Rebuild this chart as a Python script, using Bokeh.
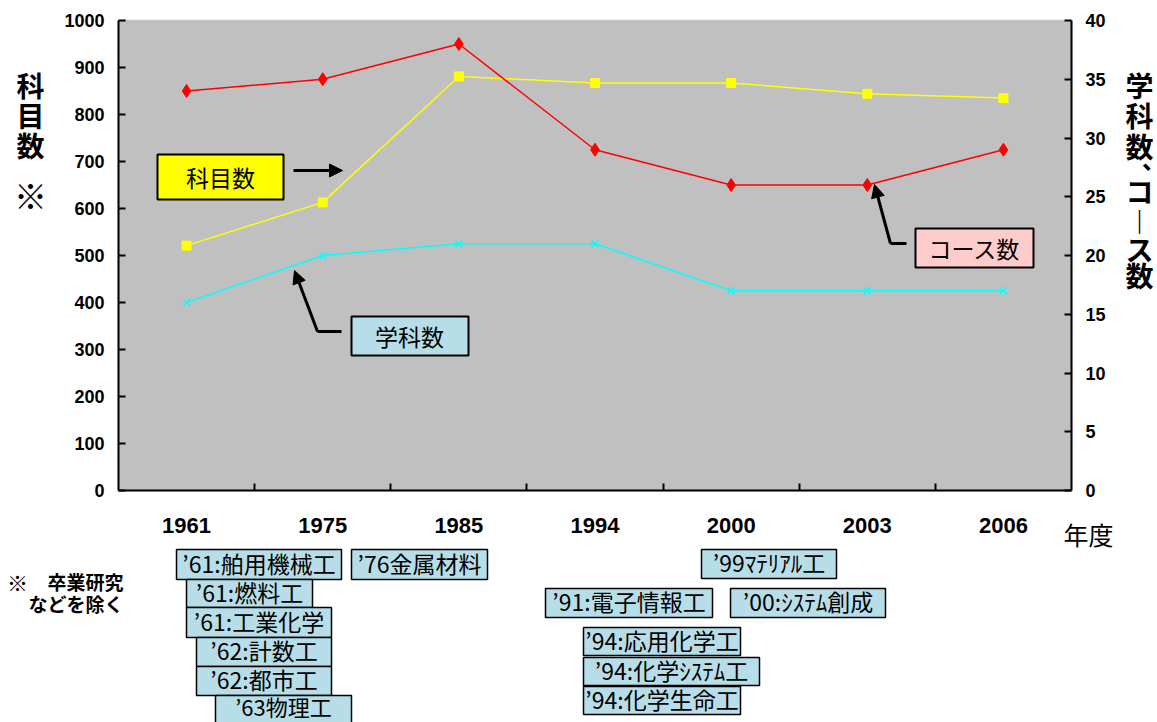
from bokeh.plotting import figure
from bokeh.models import (Range1d, LinearAxis, FixedTicker, Label, BoxAnnotation,
                          Arrow, NormalHead)
from bokeh.embed import file_html
from bokeh.resources import INLINE

# ---------------- data ----------------
years = ["1961", "1975", "1985", "1994", "2000", "2003", "2006"]
kamoku = [521, 613, 881, 867, 867, 844, 835]      # 科目数 (left axis)
course = [34, 35, 38, 29, 26, 26, 29]             # コース数 (right axis)
gakka = [16, 20, 21, 21, 17, 17, 17]              # 学科数 (right axis)
left_ticks = list(range(0, 1001, 100))
right_ticks = list(range(0, 41, 5))

dept_names = ["’61:舶用機械工", "’76金属材料", "’61:燃料工", "’61:工業化学",
              "’62:計数工", "’62:都市工", "’63物理工", "’99ﾏﾃﾘｱﾙ工",
              "’91:電子情報工", "’00:ｼｽﾃﾑ創成", "’94:応用化学工",
              "’94:化学ｼｽﾃﾑ工", "’94:化学生命工"]

# ---------------- layout (canvas pixels) ----------------
W, H = 1157, 722
FL, FR, FT, FB = 118, 1071, 20, 490          # plot area inside the canvas
dept_boxes = [(176, 549, 341, 579), (351, 549, 487, 579), (186, 579, 312, 607),
              (186, 607, 331, 637), (196, 637, 331, 666), (196, 666, 331, 695),
              (215, 695, 351, 726), (701, 549, 836, 578), (545, 588, 712, 617),
              (730, 588, 885, 617), (583, 627, 740, 655), (583, 657, 759, 685),
              (583, 686, 740, 714)]

JP = "Noto Sans CJK JP"
NUM = "Liberation Sans"

n = len(years)
y0, y1 = left_ticks[0], left_ticks[-1]
r0, r1 = right_ticks[0], right_ticks[-1]
kx = (FR - FL) / n
ky = (FB - FT) / (y1 - y0)
kr = (FB - FT) / (r1 - r0)

# the frame covers the whole canvas; ranges are widened so the plot area sits at FL..FR, FT..FB
p = figure(width=W, height=H, output_backend="svg", toolbar_location=None,
           x_range=Range1d(-FL / kx, n + (W - FR) / kx),
           y_range=Range1d(y0 - (H - FB) / ky, y1 + FT / ky),
           x_axis_type=None, y_axis_type=None,
           min_border_left=0, min_border_right=0, min_border_top=0, min_border_bottom=0)
p.extra_y_ranges = {"right": Range1d(r0 - (H - FB) / kr, r1 + FT / kr)}
p.background_fill_color = "white"
p.border_fill_color = "white"
p.outline_line_color = None

# plot-area background
p.add_layout(BoxAnnotation(left=0, right=n, bottom=y0, top=y1, fill_color="#c0c0c0",
                           fill_alpha=1.0, line_color="#9a9a9a", line_width=2,
                           level="underlay"))

xs = [i + 0.5 for i in range(n)]

# bottom axis: labels at category centres, small ticks at the boundaries
xa = LinearAxis(ticker=FixedTicker(ticks=xs, minor_ticks=list(range(1, n))),
                major_label_overrides={x: y for x, y in zip(xs, years)},
                fixed_location=y0, bounds=(0, n))
xa.major_tick_in = 0
xa.major_tick_out = 0
xa.minor_tick_in = 7
xa.minor_tick_out = 0
xa.minor_tick_line_color = "black"
xa.minor_tick_line_width = 2
xa.axis_line_color = "black"
xa.axis_line_width = 2
xa.major_label_standoff = 27
xa.major_label_text_font = NUM
xa.major_label_text_font_style = "bold"
xa.major_label_text_font_size = "22px"
xa.major_label_text_color = "black"
p.add_layout(xa, "below")

def style_y(ax):
    ax.major_tick_in = 7
    ax.major_tick_out = 0
    ax.minor_tick_in = 0
    ax.minor_tick_out = 0
    ax.major_tick_line_color = "black"
    ax.major_tick_line_width = 2
    ax.axis_line_color = "black"
    ax.axis_line_width = 2
    ax.major_label_standoff = 14
    ax.major_label_text_font = NUM
    ax.major_label_text_font_style = "bold"
    ax.major_label_text_font_size = "18px"
    ax.major_label_text_color = "black"

ya = LinearAxis(ticker=FixedTicker(ticks=left_ticks), fixed_location=0, bounds=(y0, y1))
style_y(ya)
p.add_layout(ya, "left")
yr = LinearAxis(ticker=FixedTicker(ticks=right_ticks), y_range_name="right",
                fixed_location=n, bounds=(r0, r1))
style_y(yr)
p.add_layout(yr, "right")

# series
p.line(xs, kamoku, line_color="#ffff00", line_width=1.5)
p.scatter(xs, kamoku, marker="square", size=9, fill_color="#ffff00", line_color="#ffff00")
p.line(xs, course, line_color="#ff0000", line_width=1.5, y_range_name="right")
p.scatter(xs, course, marker="diamond", size=13, fill_color="#ff0000", line_color="#ff0000",
          y_range_name="right")
p.line(xs, gakka, line_color="#00ffff", line_width=1.5, y_range_name="right")
p.scatter(xs, gakka, marker="x", size=10, line_color="#00ffff", line_width=1.5,
          y_range_name="right")

# ---------------- helpers (screen units = canvas, y up) ----------------
def sx(cx):
    return cx

def sy(cy):
    return H - cy

def box(l, t, r, b, fill, lw=1.5):
    p.add_layout(BoxAnnotation(left=sx(l), right=sx(r), top=sy(t), bottom=sy(b),
                               left_units="screen", right_units="screen",
                               top_units="screen", bottom_units="screen",
                               fill_color=fill, fill_alpha=1.0,
                               line_color="black", line_width=lw, line_alpha=1.0,
                               level="overlay"))

def label(text, cx, cy, size, bold=False, align="center", font=JP):
    # CJK glyphs sit a little low with a "middle" baseline; lift them slightly
    p.add_layout(Label(x=sx(cx), y=sy(cy - 2), x_units="screen", y_units="screen",
                       text=text, text_align=align, text_baseline="middle",
                       text_font=font, text_font_size=f"{size}px",
                       text_font_style="bold" if bold else "normal",
                       text_color="black", level="overlay"))

def arrow(x0, y0_, x1, y1_, head=True):
    p.add_layout(Arrow(x_start=sx(x0), y_start=sy(y0_), x_end=sx(x1), y_end=sy(y1_),
                       start_units="screen", end_units="screen",
                       line_color="black", line_width=3,
                       end=NormalHead(size=13, fill_color="black", line_color="black")
                       if head else None, level="overlay"))

# ---------------- callouts in the plot ----------------
box(157, 154, 283, 199, "#ffff00", 2)
label("科目数", 220, 178, 23)
arrow(293, 170, 342, 170)

box(351, 316, 468, 355, "#b7dee8", 2)
label("学科数", 409, 337, 23)
arrow(341, 331, 317, 331, head=False)
arrow(317, 331, 294, 270)

box(915, 228, 1033, 267, "#ffcccc", 2)
label("コース数", 974, 249, 23)
arrow(906, 243, 890, 243, head=False)
arrow(890, 243, 874, 184)

# ---------------- axis titles ----------------
for ch, cy in zip("科目数", [86, 116, 146]):
    label(ch, 30, cy, 28, bold=True)
label("※", 30, 196, 33, bold=True)
for ch, cy in zip("学科数", [86, 116, 147]):
    label(ch, 1139, cy, 28, bold=True)
label("､", 1148, 160, 24, bold=True)
label("コ", 1139, 192, 28, bold=True)
label("︱", 1139, 222, 28, bold=True)
label("ス", 1139, 250, 28, bold=True)
label("数", 1139, 276, 28, bold=True)

label("年度", 1088, 535, 25)
label("※", 17, 583, 21, bold=True)
label("卒業研究", 123, 583, 19, bold=True, align="right")
label("などを除く", 123, 605, 19, bold=True, align="right")

# ---------------- department boxes ----------------
for name, (l, t, r, b) in zip(dept_names, dept_boxes):
    box(l, t, r, b, "#b7dee8", 1.5)
    cy = (t + b) / 2 if b < H else t + 12
    label(name, (l + r) / 2, cy, 23 if b < H else 22)

open("out.html", "w").write(file_html(p, INLINE))
